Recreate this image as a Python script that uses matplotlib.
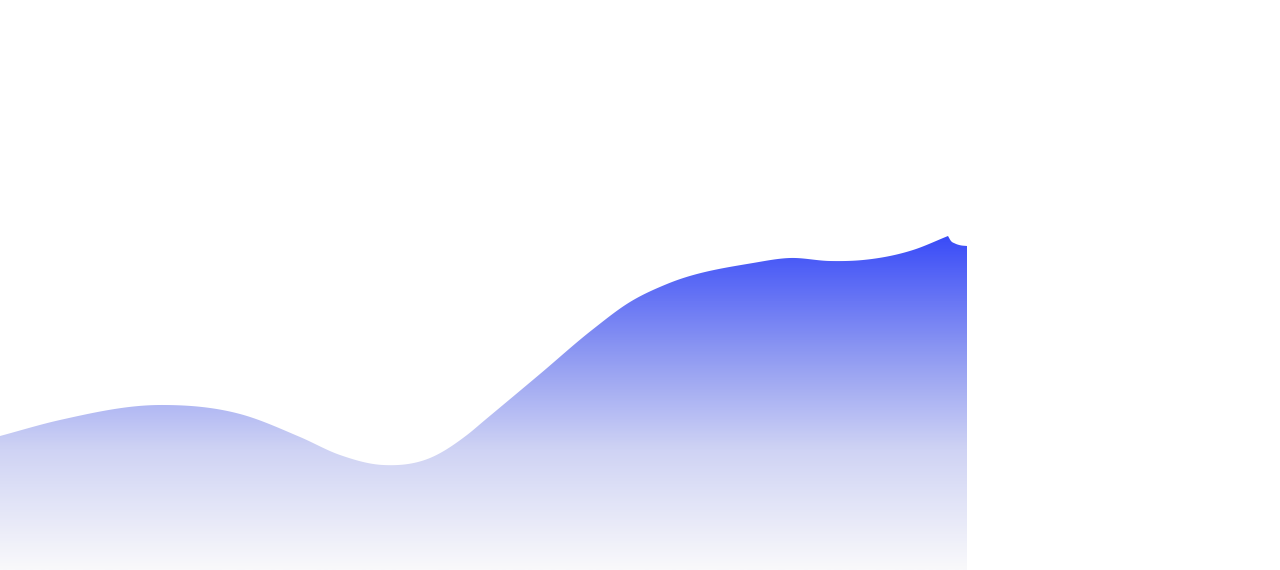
import matplotlib
matplotlib.use("Agg")
import matplotlib.pyplot as plt
import numpy as np
from matplotlib.colors import LinearSegmentedColormap

# points read along the top edge of the area (x, height above bottom)
x_main = [0, 60, 160, 240, 300, 340, 383, 430, 467, 485, 540, 592, 630, 667, 753, 790, 830, 863, 913, 948]
y_main = [134, 150, 165, 156, 133, 115, 105, 112, 135, 150, 196, 240, 268, 286, 307, 312, 309, 310, 320, 334]
x_tail = [948, 951, 955, 960, 967]
y_tail = [334, 329, 326.5, 324.8, 324]

# gradient stops (height above bottom, colour)
grad_h = [0, 120, 220, 334]
grad_c = ["#f9f9fb", "#cfd3f4", "#8c97f2", "#3a4cf8"]


def smooth(xs, ys, n=40):
    # cubic hermite in x, slopes from neighbouring points
    xs = np.asarray(xs, float)
    ys = np.asarray(ys, float)
    m = np.gradient(ys, xs)
    outx, outy = [], []
    t = np.linspace(0, 1, n, endpoint=False)
    for i in range(len(xs) - 1):
        h = xs[i + 1] - xs[i]
        h00 = 2 * t ** 3 - 3 * t ** 2 + 1
        h10 = t ** 3 - 2 * t ** 2 + t
        h01 = -2 * t ** 3 + 3 * t ** 2
        h11 = t ** 3 - t ** 2
        outx.extend(xs[i] + t * h)
        outy.extend(h00 * ys[i] + h10 * h * m[i] + h01 * ys[i + 1] + h11 * h * m[i + 1])
    outx.append(xs[-1])
    outy.append(ys[-1])
    return np.array(outx), np.array(outy)


sx1, sy1 = smooth(x_main, y_main)
sx2, sy2 = smooth(x_tail, y_tail, n=10)
sx = np.concatenate([sx1, sx2[1:]])
sy = np.concatenate([sy1, sy2[1:]])

fig = plt.figure(figsize=(12.8, 5.7), dpi=100)
ax = fig.add_axes([0, 0, 1, 1])
ax.axis("off")

area = ax.fill_between(sx, 0, sy, facecolor="none", edgecolor="none")

stops = [h / grad_h[-1] for h in grad_h]
cmap = LinearSegmentedColormap.from_list("g", list(zip(stops, grad_c)))
grad = np.linspace(0, 1, 400).reshape(-1, 1)
img = ax.imshow(grad, cmap=cmap, origin="lower", aspect="auto",
                extent=[0, sx.max(), 0, grad_h[-1]], vmin=0, vmax=1)
ax.set_xlim(0, 1280)
ax.set_ylim(0, 570)

path = area.get_paths()[0]
img.set_clip_path(path, transform=ax.transData)

fig.savefig("out.png", dpi=100, facecolor="white")
